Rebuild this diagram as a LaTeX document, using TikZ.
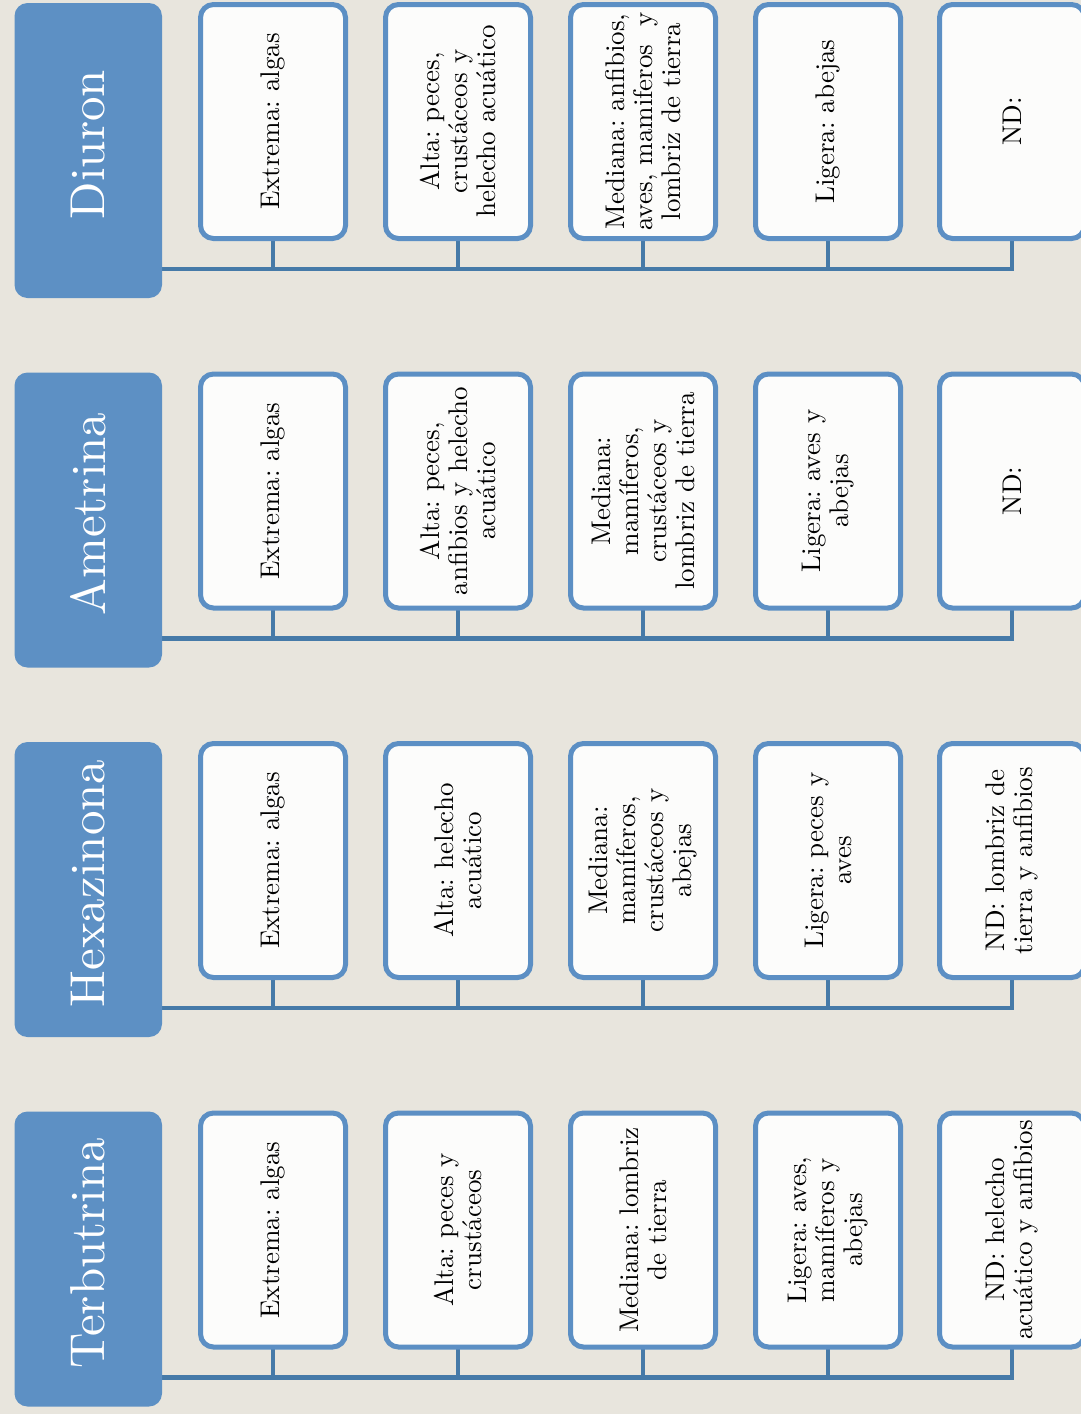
\documentclass[tikz,border=0pt]{standalone}
\usepackage{fontspec}
\setmainfont{lmroman10-regular.otf}[BoldFont=lmroman10-bold.otf]
\frenchspacing
\definecolor{bgcol}{RGB}{232,229,221}
\definecolor{hdrcol}{RGB}{93,144,196}
\definecolor{bordcol}{RGB}{92,143,196}
\definecolor{conncol}{RGB}{70,122,168}
\definecolor{boxcol}{RGB}{252,252,251}
\pgfdeclarelayer{bglayer}
\pgfdeclarelayer{linelayer}
\pgfsetlayers{bglayer,linelayer,main}
\tikzset{
  hdrbox/.style={fill=hdrcol, rounded corners=13pt, rotate=90,
    minimum width=295pt, minimum height=147.5pt, inner sep=0pt,
    text=white, font=\fontsize{49}{50}\selectfont},
  catbox/.style={draw=bordcol, line width=5pt, fill=boxcol, rounded corners=13pt,
    rotate=90, minimum width=234pt, minimum height=145pt, inner sep=0pt,
    align=center, font=\fontsize{27}{28}\selectfont},
  connline/.style={draw=conncol, line width=4.5pt, line cap=rect},
}
\newcommand\herbgroup[8]{%
  \node[hdrbox] (#1h) at (88.25,{150.5+#2}) {\hspace*{12pt}#3};
  \node[catbox] (#1b1) at (273,{121.5+#2}) {#4};
  \node[catbox] (#1b2) at (458,{121.5+#2}) {#5};
  \node[catbox] (#1b3) at (643,{121.5+#2}) {#6};
  \node[catbox] (#1b4) at (828,{121.5+#2}) {#7};
  \node[catbox] (#1b5) at (1012,{121.5+#2}) {#8};
  \foreach \i/\xx in {1/273,2/458,3/643,4/828,5/1012}
    \coordinate (#1j\i) at (\xx,{269+#2});
  \begin{pgfonlayer}{linelayer}
    \draw[connline] (#1j1 -| #1h.south) -- (#1j5);
    \foreach \i in {1,...,5} \draw[connline] (#1b\i) -- (#1j\i);
  \end{pgfonlayer}
}
\begin{document}
\begin{tikzpicture}[x=1pt,y=-1pt]
\path[use as bounding box] (0,0) rectangle (1081,1414);
\begin{pgfonlayer}{bglayer}
  \fill[bgcol] (0,0) rectangle (1081,1414);
\end{pgfonlayer}
\clip (0,0) rectangle (1081,1414);
\herbgroup{d}{0}{Diuron}
  {Extrema: algas}
  {Alta: peces,\\ crustáceos y\\ helecho acuático}
  {Mediana: anfibios,\\ aves, mamiferos~ y\\ lombriz de tierra}
  {Ligera: abejas}
  {ND:}
\herbgroup{a}{369.5}{Ametrina}
  {Extrema: algas}
  {Alta: peces,\\ anfibios y helecho\\ acuático}
  {Mediana:\\ mamíferos,\\ crustáceos y\\ lombriz de tierra}
  {Ligera: aves y\\ abejas}
  {ND:}
\herbgroup{x}{739}{Hexazinona}
  {Extrema: algas}
  {Alta: helecho\\ acuático}
  {Mediana:\\ mamíferos,\\ crustáceos y\\ abejas}
  {Ligera: peces y\\ aves}
  {ND: lombriz de\\ tierra y anfibios}
\herbgroup{t}{1108.5}{Terbutrina}
  {Extrema: algas}
  {Alta: peces y\\ crustáceos}
  {Mediana: lombriz\\ de tierra}
  {Ligera: aves,\\ mamíferos y\\ abejas}
  {ND: helecho\\ acuático y anfibios}
\end{tikzpicture}
\end{document}
